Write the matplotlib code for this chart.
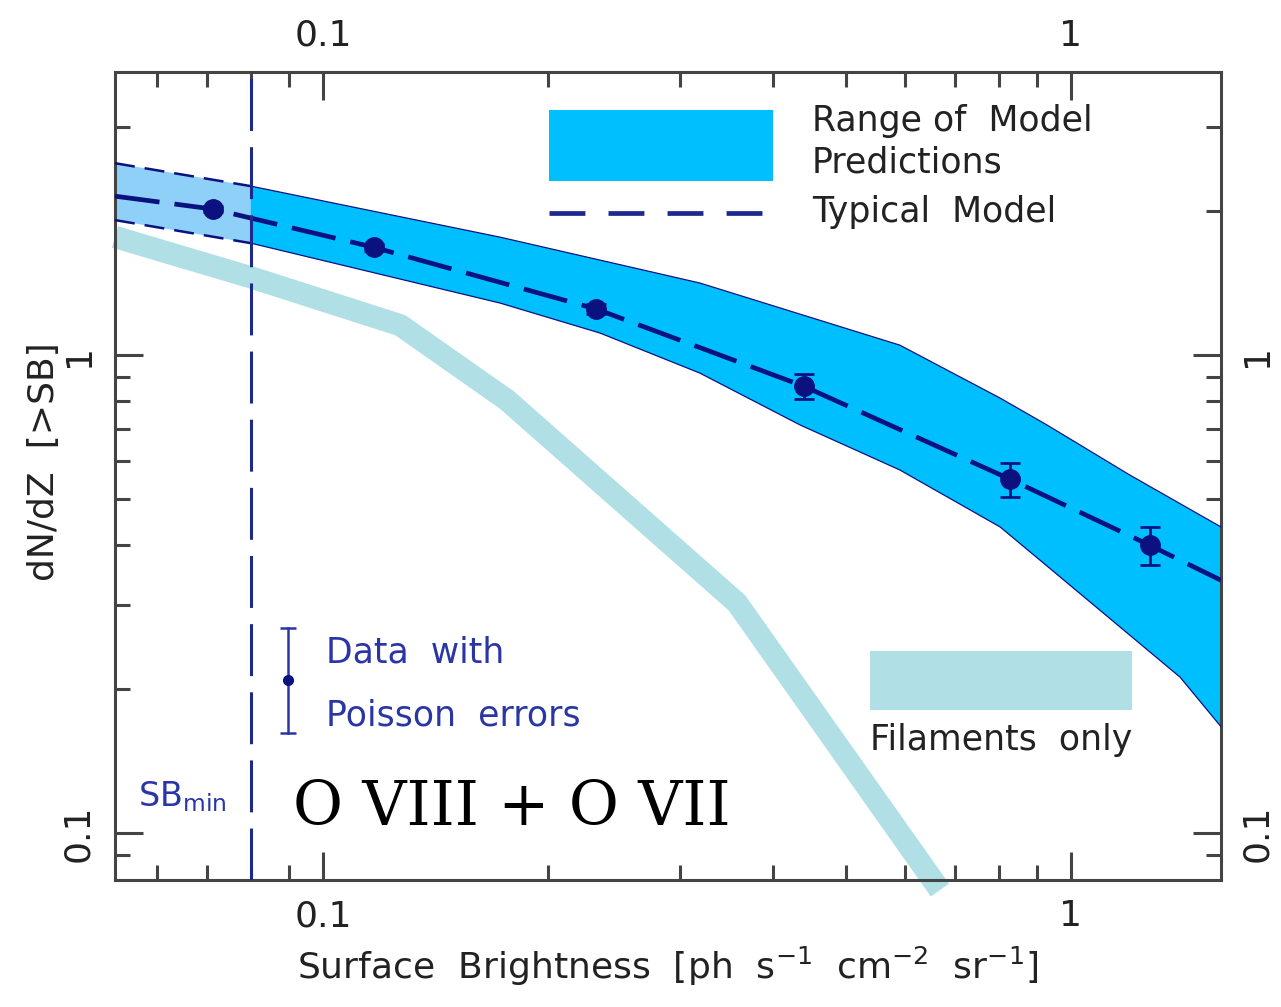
import numpy as np
import matplotlib
matplotlib.use("Agg")
import matplotlib.pyplot as plt
from matplotlib.ticker import FixedLocator, NullFormatter, FuncFormatter
from matplotlib.patches import Rectangle

# --- data ---
# range of model predictions (upper / lower edge of the band)
upper_x = [0.0527, 0.08, 0.1724, 0.319, 0.5905, 0.804, 0.929, 1.199, 1.587]
upper_y = [2.52, 2.257, 1.765, 1.415, 1.049, 0.813, 0.714, 0.561, 0.437]
lower_x = [0.0527, 0.08, 0.1724, 0.2346, 0.319, 0.4345, 0.5905, 0.804, 0.929,
           1.399, 1.587]
lower_y = [1.916, 1.715, 1.285, 1.112, 0.917, 0.714, 0.575, 0.437, 0.362,
           0.212, 0.167]

# typical model
typ_x = [0.0527, 0.0713, 0.117, 0.232, 0.439, 0.829, 1.275, 1.587]
typ_y = [2.15, 2.02, 1.68, 1.248, 0.861, 0.550, 0.400, 0.338]

# data with poisson errors
data_x = [0.0713, 0.117, 0.232, 0.439, 0.829, 1.275]
data_y = [2.02, 1.68, 1.248, 0.861, 0.550, 0.400]
data_err = [0.03, 0.03, 0.03, 0.05, 0.044, 0.036]

# filaments only
fil_x = [0.0527, 0.0799, 0.1268, 0.1762, 0.3577, 0.668]
fil_y = [1.766, 1.456, 1.155, 0.805, 0.303, 0.076]

sb_min = 0.08

navy = '#0b1280'
dblue = '#1c2a8c'
tblue = '#2a36a6'
band_col = '#00bfff'
band_light = '#8ed0f8'
fil_col = '#b0e0e6'
axcol = '#444444'

fig = plt.figure(figsize=(12.81, 10.07), dpi=100)
ax = fig.add_axes([115/1281, 1-880/1007, 1106/1281, 808/1007])
ax.set_xscale('log')
ax.set_yscale('log')
ax.set_xlim(0.0527, 1.587)
ax.set_ylim(0.0798, 3.91)

# filaments
ax.plot(fil_x, fil_y, color=fil_col, lw=16, solid_capstyle='butt',
        solid_joinstyle='round', zorder=1, clip_on=False)

# band: left of SB_min lighter with dashed edges, right solid
n = 2
ax.fill(upper_x[:n] + lower_x[:n][::-1], upper_y[:n] + lower_y[:n][::-1],
        color=band_light, lw=0, zorder=2)
ax.fill(upper_x[n-1:] + lower_x[n-1:][::-1], upper_y[n-1:] + lower_y[n-1:][::-1],
        color=band_col, lw=0, zorder=2)
ax.plot(upper_x[:n], upper_y[:n], color=navy, lw=1.8, dashes=(8, 4), zorder=3)
ax.plot(lower_x[:n], lower_y[:n], color=navy, lw=1.8, dashes=(8, 4), zorder=3)
ax.plot(upper_x[n-1:], upper_y[n-1:], color=navy, lw=0.9, zorder=3)
ax.plot(lower_x[n-1:], lower_y[n-1:], color=navy, lw=0.9, zorder=3)

# typical model
ax.plot(typ_x, typ_y, color=navy, lw=3.4, dashes=(9.5, 3.2), zorder=4)
ax.errorbar(data_x, data_y, yerr=data_err, fmt='o', ms=14, color=navy,
            elinewidth=2, capsize=7, capthick=2, zorder=5)

# SB_min line
ax.axvline(sb_min, color=dblue, lw=2.2, dashes=(17, 5.3), zorder=4)

# --- in-plot legend pieces (axes fractions) ---
ax.add_patch(Rectangle((0.3924, 0.8651), 0.2025, 0.0879, transform=ax.transAxes,
                       color=band_col, lw=0, zorder=3))
ax.plot([0.3924, 0.5949], [0.8255, 0.8255], transform=ax.transAxes,
        color=dblue, lw=3.4, dashes=(7.6, 4.9), zorder=3)
fs = 25
ax.text(0.630, 0.939, 'Range of  Model', transform=ax.transAxes, fontsize=fs,
        color='#222222', va='center', ha='left')
ax.text(0.630, 0.8886, 'Predictions', transform=ax.transAxes, fontsize=fs,
        color='#222222', va='center', ha='left')
ax.text(0.630, 0.8267, 'Typical  Model', transform=ax.transAxes, fontsize=fs,
        color='#222222', va='center', ha='left')

ax.add_patch(Rectangle((0.6826, 0.2104), 0.2369, 0.073, transform=ax.transAxes,
                       color=fil_col, lw=0, zorder=3))
ax.text(0.6826, 0.1733, 'Filaments  only', transform=ax.transAxes, fontsize=fs,
        color='#222222', va='center', ha='left')

ax.plot([0.1564, 0.1564], [0.1819, 0.3119], transform=ax.transAxes,
        color=tblue, lw=1.8, zorder=5)
ax.plot([0.1564, 0.1564], [0.1819, 0.3119], transform=ax.transAxes,
        color=tblue, ls='none', marker='_', ms=12, mew=1.8, zorder=5)
ax.plot([0.1564], [0.2475], transform=ax.transAxes, color=navy,
        marker='o', ms=7, zorder=5)
ax.text(0.1908, 0.281, 'Data  with', transform=ax.transAxes, fontsize=fs,
        color=tblue, va='center', ha='left')
ax.text(0.1908, 0.2042, 'Poisson  errors', transform=ax.transAxes, fontsize=fs,
        color=tblue, va='center', ha='left')

ax.text(0.0208, 0.1027, r'SB$_{\mathregular{min}}$', transform=ax.transAxes,
        fontsize=24, color=tblue, va='center', ha='left')
ax.text(0.161, 0.089, 'O VIII + O VII', transform=ax.transAxes, fontsize=44,
        family='DejaVu Serif', color='black', va='center', ha='left')

# --- axes styling ---
for s in ax.spines.values():
    s.set_color(axcol)
    s.set_linewidth(2.2)

fmt = FuncFormatter(lambda v, p: '{:g}'.format(v))
ax.xaxis.set_major_locator(FixedLocator([0.1, 1]))
ax.xaxis.set_minor_locator(FixedLocator([0.06, 0.07, 0.08, 0.09, 0.2, 0.3, 0.4,
                                         0.5, 0.6, 0.7, 0.8, 0.9]))
ax.yaxis.set_major_locator(FixedLocator([0.1, 1]))
ax.yaxis.set_minor_locator(FixedLocator([0.09, 0.2, 0.3, 0.4, 0.5, 0.6, 0.7,
                                         0.8, 0.9, 2, 3]))
ax.xaxis.set_major_formatter(fmt)
ax.yaxis.set_major_formatter(fmt)
ax.xaxis.set_minor_formatter(NullFormatter())
ax.yaxis.set_minor_formatter(NullFormatter())

ax.tick_params(which='both', direction='in', top=True, right=True,
               labeltop=True, labelright=True, color=axcol, width=2.2,
               labelsize=26, labelcolor='#222222')
ax.tick_params(which='major', length=20, pad=14)
ax.tick_params(which='minor', length=11)
ax.tick_params(axis='y', labelrotation=90)
for lab in ax.get_yticklabels():
    lab.set_va('center')

ax.set_xlabel(r'Surface  Brightness  [ph  s$^{-1}$  cm$^{-2}$  sr$^{-1}$]',
              fontsize=26, color='#222222', labelpad=8)
fig.text(44/1281, 1-462/1007, 'dN/dZ  [>SB]', rotation=90, fontsize=26,
         color='#222222', ha='center', va='center')

fig.savefig('out.png', dpi=100)
